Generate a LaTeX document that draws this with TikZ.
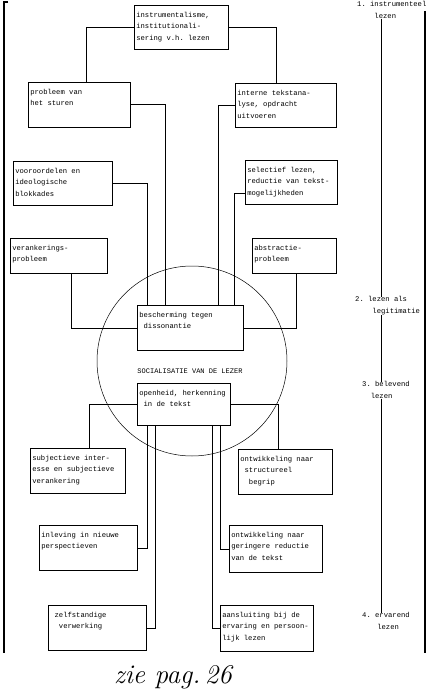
\documentclass[tikz,border=0pt]{standalone}
\usepackage{fontspec}
\setmonofont{Liberation Mono}
\usepackage{tikz}
\newcommand{\blok}[3]{\parbox[c][\dimexpr#2pt-8pt\relax][t]{\dimexpr#1pt-4pt\relax}{\raggedright\strut#3}}
\newcommand{\insp}[1]{\hspace*{#1\fontdimen2\font}}
\begin{document}
\begin{tikzpicture}[
  x=1pt, y=-1pt,
  txt/.style={font=\ttfamily\fontsize{7.2}{11.5}\selectfont},
  box/.style={txt, draw=black, line width=0.6pt, fill=white, anchor=north west, inner xsep=2pt, inner ysep=4pt},
  lbl/.style={txt, anchor=north west, inner sep=0pt, align=left},
  lnk/.style={draw=black, line width=0.6pt},
  rand/.style={draw=black, line width=1.1pt}
]
\useasboundingbox (0,0) rectangle (429,700);
\node[draw=black, line width=0.5pt, circle, minimum size=190pt, inner sep=0pt] (kring) at (192,361) {};
\node[txt, font=\ttfamily\fontsize{7}{9}\selectfont] (soc) at (190,371) {SOCIALISATIE VAN DE LEZER};
\node[box] (instr) at (134,5) {\blok{94}{44}{instrumentalisme,\\institutionali-\\sering v.h. lezen}};
\node[box] (sturen) at (28,82) {\blok{102}{45}{probleem van\\het sturen}};
\node[box] (analyse) at (235,83) {\blok{101}{44}{interne tekstana-\\lyse, opdracht\\uitvoeren}};
\node[box] (vooroord) at (13,161) {\blok{99}{44}{vooroordelen en\\ideologische\\blokkades}};
\node[box] (selectief) at (245,160) {\blok{92}{44}{selectief lezen,\\reductie van tekst-\\mogelijkheden}};
\node[box] (veranker) at (10,238) {\blok{97}{35}{verankerings-\\probleem}};
\node[box] (abstract) at (252,238) {\blok{84}{35}{abstractie-\\probleem}};
\node[box] (bescherm) at (137,305) {\blok{106}{45}{bescherming tegen\\\insp{1}dissonantie}};
\node[box] (openheid) at (137,383) {\blok{93}{42}{openheid, herkenning\\\insp{1}in de tekst}};
\node[box] (subject) at (30,448) {\blok{95}{45}{subjectieve inter-\\esse en subjectieve\\verankering}};
\node[box] (structuur) at (238,449) {\blok{94}{45}{ontwikkeling naar\\\insp{1}structureel\\\insp{2}begrip}};
\node[box] (inleving) at (39,525) {\blok{98}{45}{inleving in nieuwe\\perspectieven}};
\node[box] (reductie) at (229,525) {\blok{93}{47}{ontwikkeling naar\\geringere reductie\\van de tekst}};
\node[box] (zelfst) at (48,605) {\blok{98}{45}{\insp{1}zelfstandige\\\insp{2}verwerking}};
\node[box] (aansluit) at (220,605) {\blok{93}{46}{aansluiting bij de\\ervaring en persoon-\\lijk lezen}};
\draw[lnk] (instr.west) -| ([xshift=58pt]sturen.north west);
\draw[lnk] (instr.east) -| ([xshift=41pt]analyse.north west);
\draw[lnk] (sturen.east) -| ([xshift=28pt]bescherm.north west);
\draw[lnk] (analyse.west) -| ([xshift=81pt]bescherm.north west);
\draw[lnk] (vooroord.east) -| ([xshift=10pt]bescherm.north west);
\draw[lnk] ([yshift=-11pt]selectief.west) -| ([xshift=97pt]bescherm.north west);
\draw[lnk] ([xshift=61pt]veranker.south west) |- (bescherm.west);
\draw[lnk] ([xshift=44pt]abstract.south west) |- (bescherm.east);
\draw[lnk] (openheid.west) -| ([xshift=59pt]subject.north west);
\draw[lnk] (openheid.east) -| ([xshift=40pt]structuur.north west);
\draw[lnk] ([xshift=10pt]openheid.south west) |- (inleving.east);
\draw[lnk] ([xshift=18pt]openheid.south west) |- (zelfst.east);
\draw[lnk] ([xshift=75pt]openheid.south west) |- (aansluit.west);
\draw[lnk] ([xshift=83pt]openheid.south west) |- (reductie.west);
\node[lbl] (lvl1) at (357,1.5) {1. instrumenteel\\\insp{4}lezen};
\node[lbl] (lvl2) at (355,296.5) {2. lezen als\\\insp{4}legitimatie};
\node[lbl] (lvl3) at (362,381.5) {3. belevend\\\insp{2}lezen};
\node[lbl] (lvl4) at (362,612.5) {4. ervarend\\\insp{3.5}lezen};
\coordinate (as) at (381,0);
\draw[lnk, line width=0.5pt] (lvl1.south -| as) -- (lvl2.north -| as);
\draw[lnk, line width=0.5pt] (lvl2.south -| as) -- (lvl3.north -| as);
\draw[lnk, line width=0.5pt] (lvl3.south -| as) -- (lvl4.north -| as);
\draw[rand] (8,2) -- (4,2) -- (4,653);
\draw[rand] (425,11) -- (425,653);
\node[font=\itshape\fontsize{27}{27}\selectfont] (noot) at (173,677) {zie pag.\,26};
\end{tikzpicture}
\end{document}
